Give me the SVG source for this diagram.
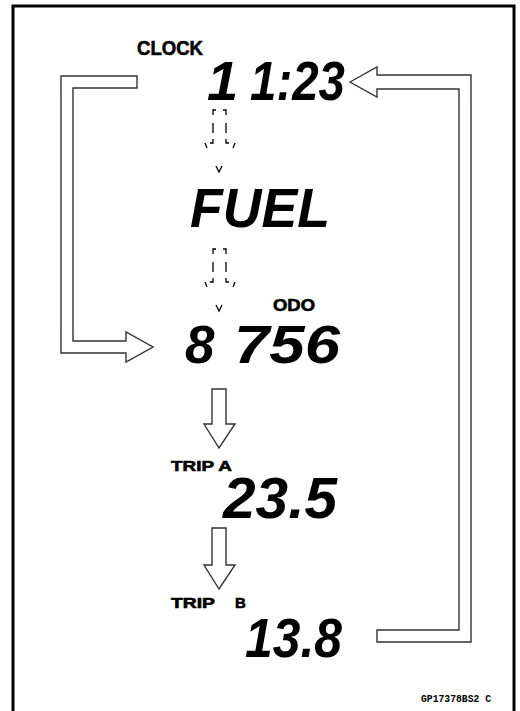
<svg xmlns="http://www.w3.org/2000/svg" width="520" height="711" viewBox="0 0 520 711">
<style>
.lcd{font-family:"Liberation Sans",Arial,sans-serif;font-weight:bold;font-style:italic;fill:#000}
.lbl{font-family:"Liberation Sans",Arial,sans-serif;font-weight:bold;fill:#000;stroke:#000;stroke-width:0.6}
.code{font-family:"Liberation Mono","Courier New",monospace;font-weight:bold;font-size:10px;fill:#000}
.big{fill:#fff;stroke:#333;stroke-width:1.4;stroke-linejoin:miter}
.dash{fill:none;stroke:#000;stroke-width:1.3}
</style>
<defs>
<path id="dArrow" class="dash" d="M213,5 V0 H216 M223,0 H226 V5 M213,13 V23 M226,13 V23 M213,29 V33 H210 M205,33 L207,38 M226,29 V33 H229 M235,33 L233,38 M216,56 L219,62 L222,56"/>
</defs>
<rect x="13" y="6" width="501" height="720" fill="#fff" stroke="#000" stroke-width="3"/>
<g id="connectors">
<polygon class="big" points="137,76 61,76 61,353 126,353 126,362 153,347 126,332 126,341 73,341 73,88 137,88"/>
<polygon class="big" points="350,82 377,67 377,75 471,75 471,642 377,642 377,630 459,630 459,89 377,89 377,97"/>
<use href="#dArrow" transform="translate(0,110)"/>
<use href="#dArrow" transform="translate(0,249)"/>
<polygon class="big" points="212,389 226,389 226,424 235,424 219,448 204,424 212,424"/>
<polygon class="big" points="212,528 226,528 226,565 235,565 219,589 204,565 212,565"/>
</g>
<g id="clock">
<text class="lbl" x="137" y="55" font-size="20" textLength="66" lengthAdjust="spacingAndGlyphs">CLOCK</text>
<text class="lcd" y="100" font-size="56"><tspan x="207">1</tspan><tspan x="250" textLength="95" lengthAdjust="spacingAndGlyphs">1:23</tspan></text>
</g>
<g id="fuel">
<text class="lcd" x="190" y="227" font-size="56" textLength="140" lengthAdjust="spacingAndGlyphs">FUEL</text>
</g>
<g id="odo">
<text class="lbl" x="273" y="311" font-size="16" textLength="42" lengthAdjust="spacingAndGlyphs">ODO</text>
<text class="lcd" y="363" font-size="53"><tspan x="185">8</tspan><tspan x="234" textLength="106" lengthAdjust="spacingAndGlyphs">756</tspan></text>
</g>
<g id="tripa">
<text class="lbl" x="171" y="471" font-size="15" textLength="61" lengthAdjust="spacingAndGlyphs">TRIP A</text>
<text class="lcd" x="223" y="518" font-size="58" textLength="114" lengthAdjust="spacingAndGlyphs">23.5</text>
</g>
<g id="tripb">
<text class="lbl" y="608" font-size="15"><tspan x="171" textLength="44" lengthAdjust="spacingAndGlyphs">TRIP</tspan><tspan x="235">B</tspan></text>
<text class="lcd" x="245" y="657" font-size="56" textLength="97" lengthAdjust="spacingAndGlyphs">13.8</text>
</g>
<text class="code" x="421" y="702" textLength="70" lengthAdjust="spacingAndGlyphs">GP17378BS2 C</text>
</svg>
